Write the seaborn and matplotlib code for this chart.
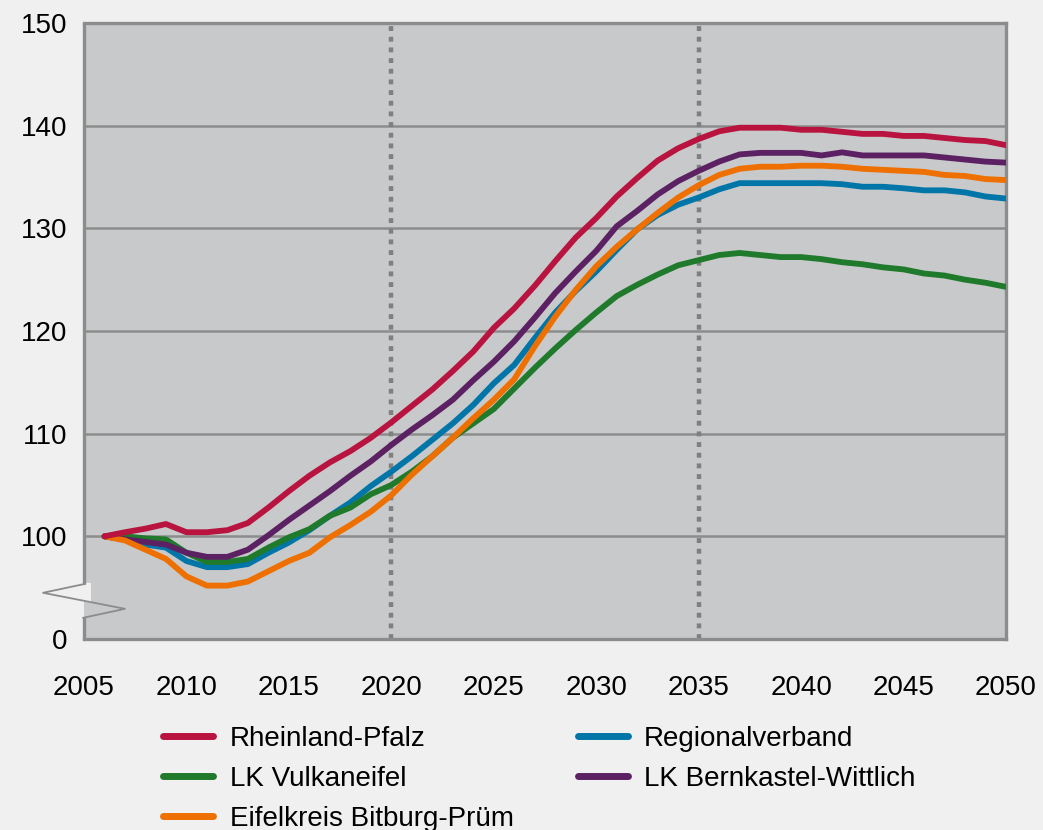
import numpy as np
import pandas as pd
import matplotlib
matplotlib.use("Agg")
import matplotlib.pyplot as plt
import seaborn as sns
from matplotlib.lines import Line2D
from matplotlib.patches import Polygon

# Data (index, 2006 = 100)
years = list(range(2006, 2051))

rheinland_pfalz = [100.0, 100.4, 100.75, 101.2, 100.4, 100.4, 100.6, 101.3, 102.8, 104.4,
                   105.9, 107.2, 108.3, 109.6, 111.1, 112.7, 114.3, 116.1, 118.0, 120.3,
                   122.2, 124.4, 126.8, 129.1, 131.0, 133.1, 134.9, 136.6, 137.8, 138.7,
                   139.45, 139.8, 139.8, 139.8, 139.6, 139.6, 139.4, 139.2, 139.2, 139.0,
                   139.0, 138.8, 138.6, 138.5, 138.1]
regionalverband = [100.0, 99.7, 99.2, 98.9, 97.6, 97.0, 97.0, 97.3, 98.4, 99.4,
                   100.6, 102.0, 103.3, 104.9, 106.3, 107.8, 109.4, 111.0, 112.8, 114.9,
                   116.7, 119.3, 121.8, 123.9, 125.8, 127.9, 129.9, 131.3, 132.3, 133.0,
                   133.8, 134.4, 134.4, 134.4, 134.4, 134.4, 134.3, 134.05, 134.05, 133.9,
                   133.7, 133.7, 133.5, 133.1, 132.9]
vulkaneifel = [100.0, 100.0, 99.8, 99.7, 98.4, 97.5, 97.5, 97.8, 98.9, 99.9,
               100.7, 102.0, 102.8, 104.1, 105.0, 106.3, 107.8, 109.6, 111.0, 112.4,
               114.4, 116.4, 118.3, 120.1, 121.8, 123.4, 124.5, 125.5, 126.4, 126.9,
               127.4, 127.6, 127.4, 127.2, 127.2, 127.0, 126.7, 126.5, 126.2, 126.0,
               125.6, 125.4, 125.0, 124.7, 124.3]
bernkastel = [100.0, 99.7, 99.45, 99.2, 98.4, 98.0, 98.0, 98.7, 100.1, 101.6,
              103.0, 104.4, 105.9, 107.3, 108.9, 110.4, 111.8, 113.3, 115.2, 117.0,
              119.0, 121.3, 123.7, 125.8, 127.8, 130.2, 131.7, 133.3, 134.6, 135.6,
              136.5, 137.2, 137.35, 137.35, 137.35, 137.1, 137.4, 137.1, 137.1, 137.1,
              137.1, 136.9, 136.7, 136.5, 136.4]
eifelkreis = [100.0, 99.6, 98.7, 97.8, 96.1, 95.2, 95.2, 95.6, 96.6, 97.6,
              98.4, 99.9, 101.1, 102.4, 104.0, 106.0, 107.8, 109.6, 111.5, 113.3,
              115.3, 118.5, 121.4, 124.0, 126.3, 128.2, 129.9, 131.5, 133.0, 134.2,
              135.2, 135.8, 136.0, 136.0, 136.1, 136.1, 136.0, 135.8, 135.7, 135.6,
              135.5, 135.2, 135.1, 134.8, 134.7]

series = {
    "Regionalverband": regionalverband,
    "LK Vulkaneifel": vulkaneifel,
    "LK Bernkastel-Wittlich": bernkastel,
    "Eifelkreis Bitburg-Prüm": eifelkreis,
    "Rheinland-Pfalz": rheinland_pfalz,
}
colors = {
    "Rheinland-Pfalz": "#B8143F",
    "Regionalverband": "#0076A8",
    "LK Vulkaneifel": "#207A2B",
    "LK Bernkastel-Wittlich": "#5C2162",
    "Eifelkreis Bitburg-Prüm": "#EE7000",
}
legend_order = ["Rheinland-Pfalz", "LK Vulkaneifel", "Eifelkreis Bitburg-Prüm",
                "Regionalverband", "LK Bernkastel-Wittlich"]

y_ticks = [90, 100, 110, 120, 130, 140, 150]
y_labels = ["0", "100", "110", "120", "130", "140", "150"]
x_ticks = list(range(2005, 2051, 5))

df = pd.DataFrame([(n, y, v) for n, vals in series.items() for y, v in zip(years, vals)],
                  columns=["Region", "Jahr", "Wert"])

sns.set_style("white")
plt.rcParams["font.family"] = ["Liberation Sans", "DejaVu Sans"]

bg = "#EFF0EF"
grid_c = "#8C8C8C"
fig = plt.figure(figsize=(10.43, 8.3), dpi=100, facecolor=bg)
ax = fig.add_axes([84 / 1043, 1 - 639 / 830, 922 / 1043, 616 / 830])
ax.set_facecolor("#C8C9CB")

for v in y_ticks[1:]:
    ax.axhline(v, color=grid_c, lw=1.8, zorder=1)
for x in [2020, 2035]:
    ax.axvline(x, color="#7F7F7F", lw=3.2, ls=(0, (1.1, 1.3)), dash_capstyle="butt", zorder=1)

sns.lineplot(data=df, x="Jahr", y="Wert", hue="Region", hue_order=list(series.keys()),
             palette=colors, lw=4.2, ax=ax, legend=False, zorder=3)

ax.set_xlim(2005, 2050)
ax.set_ylim(90, 150)
ax.set_xticks(x_ticks)
ax.set_yticks(y_ticks)
ax.set_yticklabels(y_labels)
ax.set_xlabel("")
ax.set_ylabel("")
ax.tick_params(axis="both", labelsize=20, colors=grid_c, labelcolor="black",
               length=7, width=2, direction="out")
ax.tick_params(axis="x", pad=19)
ax.tick_params(axis="y", pad=5)

for side in ["top", "right", "bottom"]:
    ax.spines[side].set_color(grid_c)
    ax.spines[side].set_linewidth(2.4)
ax.spines["left"].set_visible(False)

# left spine with axis break
lo, hi = 92.06, 95.47
ax.axvline(2005, ymin=0, ymax=(lo - 90) / 60, color=grid_c, lw=2.4, clip_on=False, zorder=5)
ax.axvline(2005, ymin=(hi - 90) / 60, ymax=1, color=grid_c, lw=2.4, clip_on=False, zorder=5)
ax.add_patch(Polygon([(2004.95, 95.47), (2005.34, 95.47), (2005.34, 93.53), (2004.95, 93.73)],
                     closed=True, facecolor=bg, edgecolor="none", clip_on=False, zorder=4))
ax.plot([2005.05, 2003.0, 2007.0, 2004.95], [95.37, 94.5, 92.94, 92.06],
        color="#8C8C8C", lw=1.3, clip_on=False, zorder=6)

handles = [Line2D([0], [0], color=colors[n], lw=5, solid_capstyle="round") for n in legend_order]
fig.legend(handles, legend_order, ncol=2, frameon=False, fontsize=20, labelcolor="black",
           loc="upper left", bbox_to_anchor=(163 / 1043, 1 - 726 / 830),
           handlelength=1.8, handletextpad=0.6, columnspacing=2.3,
           labelspacing=0.5, borderpad=0, borderaxespad=0)

fig.savefig("out.png", dpi=100, facecolor=bg)
